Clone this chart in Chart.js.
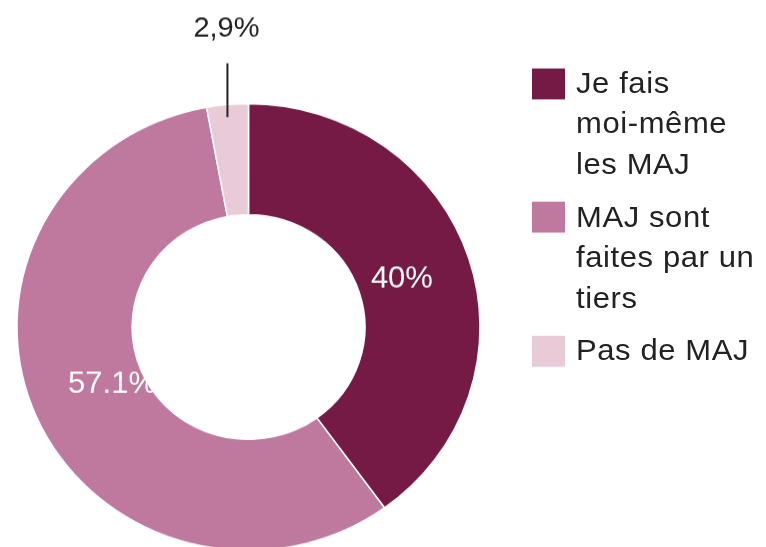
<!DOCTYPE html>
<html><head><meta charset="utf-8">
<script src="https://cdn.jsdelivr.net/npm/chart.js@4"></script>
<style>
html,body{margin:0;padding:0;width:766px;height:547px;overflow:hidden;background:#fff;}
#stage{position:absolute;left:0;top:0;width:766px;height:700px;transform:scaleY(0.965);transform-origin:0 0;}
#cwrap{position:absolute;left:0;top:0;width:766px;height:700px;}
#legend{position:absolute;left:532px;top:65px;margin:0;padding:0;list-style:none;font-family:"Liberation Sans",Arial,sans-serif;font-size:31px;line-height:42px;color:#222;letter-spacing:0.6px;}
#legend li{position:relative;padding-left:44px;margin-bottom:12.5px;white-space:nowrap;}
#legend .box{position:absolute;left:0;top:5.5px;width:33px;height:32px;}
</style></head>
<body>
<div id="stage"><div id="cwrap"><canvas id="c"></canvas></div><ul id="legend"></ul></div>
<script>
const categories = [['Je fais','moi-même','les MAJ'], ['MAJ sont','faites par un','tiers'], ['Pas de MAJ']];
const values = [40, 57.1, 2.9];
const valueLabels = ['40%', '57.1%', '2,9%'];
const colors = ['#741a44', '#c0799e', '#e9cbd8'];

const FONT = '"Liberation Sans", Arial, sans-serif';

const sliceLabels = {
  id: 'sliceLabels',
  afterDatasetsDraw(chart) {
    const ctx = chart.ctx;
    const meta = chart.getDatasetMeta(0);
    meta.data.forEach((arc, i) => {
      const p = arc.getProps(['x','y','startAngle','endAngle','innerRadius','outerRadius'], true);
      const mid = (p.startAngle + p.endAngle) / 2;
      const cos = Math.cos(mid), sin = Math.sin(mid);
      ctx.save();
      ctx.textAlign = 'center';
      ctx.textBaseline = 'middle';
      if (values[i] >= 5) {
        const r = p.innerRadius + (p.outerRadius - p.innerRadius) * 0.335;
        ctx.font = '31px ' + FONT;
        ctx.fillStyle = '#ffffff';
        ctx.fillText(valueLabels[i], p.x + cos * r + 6, p.y + sin * r - 2);
      } else {
        const lx = p.x + cos * p.outerRadius;
        ctx.strokeStyle = '#222';
        ctx.lineWidth = 2;
        ctx.beginPath();
        ctx.moveTo(lx, p.y + sin * (p.outerRadius - 13));
        ctx.lineTo(lx, p.y + sin * (p.outerRadius + 43));
        ctx.stroke();
        ctx.fillStyle = '#222';
        ctx.font = '29px ' + FONT;
        ctx.fillText(valueLabels[i], lx - 1, p.y + sin * (p.outerRadius + 79));
      }
      ctx.restore();
    });
  }
};

const chart = new Chart(document.getElementById('c'), {
  type: 'doughnut',
  data: {
    labels: categories.map(l => l.join(' ')),
    datasets: [{
      data: values,
      backgroundColor: colors,
      borderColor: '#ffffff',
      borderWidth: 1.5,
      hoverOffset: 0
    }]
  },
  options: {
    responsive: true,
    maintainAspectRatio: false,
    animation: false,
    events: [],
    radius: 231.5,
    cutout: '50.3%',
    layout: { padding: { left: 0, right: 269, top: 0, bottom: 22.2 } },
    plugins: { legend: { display: false }, tooltip: { enabled: false } }
  },
  plugins: [sliceLabels]
});

const ul = document.getElementById('legend');
categories.forEach((lines, i) => {
  const li = document.createElement('li');
  const box = document.createElement('span');
  box.className = 'box';
  box.style.background = chart.data.datasets[0].backgroundColor[i];
  li.appendChild(box);
  lines.forEach((t, j) => {
    if (j) li.appendChild(document.createElement('br'));
    li.appendChild(document.createTextNode(t));
  });
  ul.appendChild(li);
});
</script>
</body></html>
